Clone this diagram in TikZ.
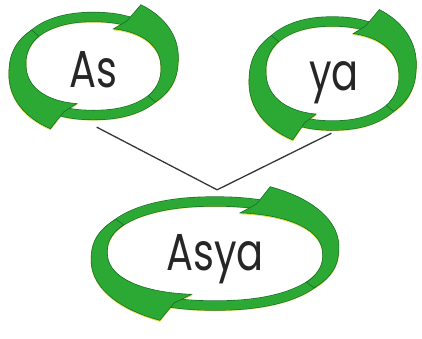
\documentclass[tikz,border=0pt]{standalone}
\usepackage{fontspec}
\setmainfont{Poppins}
\usepackage{tikz}
\usepackage{graphicx}
\usetikzlibrary{shapes.geometric}

\definecolor{ringgreen}{RGB}{44,168,52}
\definecolor{ringdark}{RGB}{24,110,42}
\definecolor{ringyellow}{RGB}{226,222,70}
\definecolor{linkgray}{RGB}{50,56,56}

% closed ring: #1 style, #2 #3 centre, #4 #5 half axes
\newcommand{\ringloop}[5]{%
  \draw[#1] plot[domain=0.5:357.5, samples=120, smooth cycle]
    ({#2+#4*supx(\x)}, {#3-#5*supy(\x)});
}
% arrow head on the ring: #1 style, #2..#5 ring, #6 outer barb, #7 inner barb, #8 tip
\newcommand{\ringhead}[8]{%
  \filldraw[#1] plot[domain=#6:#8, samples=30]
    ({#2+(#4+4.5+15*(\x-(#8))/(#6-(#8)))*supx(\x)}, {#3-(#5+4.5+15*(\x-(#8))/(#6-(#8)))*supy(\x)})
    -- plot[domain=#8:#7, samples=30]
    ({#2+(#4-4.5-6*(\x-(#8))/(#7-(#8)))*supx(\x)}, {#3-(#5-4.5-6*(\x-(#8))/(#7-(#8)))*supy(\x)})
    -- ({#2+#4*supx(0.7*#6+0.3*#7)}, {#3-#5*supy(0.7*#6+0.3*#7)}) -- cycle;
}

\begin{document}
\begin{tikzpicture}[x=1pt, y=-1pt,
  declare function={supx(\t)=sign(cos(\t))*pow(abs(cos(\t))+0.00001,0.9);
                    supy(\t)=sign(sin(\t))*pow(abs(sin(\t))+0.00001,0.9);},
  ringshade/.style={ringyellow, yshift=-1pt},
  ringedge/.style={ringdark, line width=10.2pt},
  ringbody/.style={ringgreen, line width=9pt},
  headshade/.style={fill=ringyellow, draw=ringyellow, line width=0.6pt, yshift=-1pt},
  headbody/.style={fill=ringgreen, draw=ringdark, line width=0.6pt},
  word/.style={anchor=base, inner sep=0pt, text=black!85, font=\fontsize{52}{56}\selectfont},
  ringnode/.style={ellipse, inner sep=0pt, minimum width=#1},
  link/.style={linkgray, line width=1.3pt}]
\useasboundingbox (0,0) rectangle (422,338);
\fill[white] (0,0) rectangle (422,338);

% invisible ring outlines, for the links
\node[ringnode=150pt, minimum height=122pt] (asring) at (93.5,66) {};
\node[ringnode=150pt, minimum height=119pt] (yaring) at (332.5,73.5) {};
\node[ringnode=240pt, minimum height=127pt] (asyaring) at (216,253.5) {};

\draw[link] (asring.-87) -- (asyaring.89);
\draw[link] (yaring.-91) -- (asyaring.89);

% As
\ringloop{ringshade, line width=9pt}{93.5}{66}{74}{49}
\ringhead{headshade}{93.5}{66}{74}{49}{62}{74}{-40}
\ringhead{headshade}{93.5}{66}{74}{49}{245}{257}{140}
\ringloop{ringedge}{93.5}{66}{74}{49}
\ringloop{ringbody}{93.5}{66}{74}{49}
\ringhead{headbody}{93.5}{66}{74}{49}{62}{74}{-40}
\ringhead{headbody}{93.5}{66}{74}{49}{245}{257}{140}

% ya
\ringloop{ringshade, line width=9pt}{332.5}{73.5}{73}{52}
\ringhead{headshade}{332.5}{73.5}{73}{52}{62}{73}{-40}
\ringhead{headshade}{332.5}{73.5}{73}{52}{247}{257}{140}
\ringloop{ringedge}{332.5}{73.5}{73}{52}
\ringloop{ringbody}{332.5}{73.5}{73}{52}
\ringhead{headbody}{332.5}{73.5}{73}{52}{62}{73}{-40}
\ringhead{headbody}{332.5}{73.5}{73}{52}{247}{257}{140}

% Asya
\ringloop{ringshade, line width=9pt}{215}{253.5}{114}{52}
\ringhead{headshade}{215}{253.5}{114}{52}{68}{78}{-35}
\ringhead{headshade}{215}{253.5}{114}{52}{248}{259}{145}
\ringloop{ringedge}{215}{253.5}{114}{52}
\ringloop{ringbody}{215}{253.5}{114}{52}
\ringhead{headbody}{215}{253.5}{114}{52}{68}{78}{-35}
\ringhead{headbody}{215}{253.5}{114}{52}{248}{259}{145}

\node[word] (as) at (93,87) {\scalebox{0.77}[1]{As}};
\node[word] (ya) at (334,90) {\scalebox{0.77}[1]{ya}};
\node[word] (asya) at (215,270) {\scalebox{0.77}[1]{Asya}};
\end{tikzpicture}
\end{document}
